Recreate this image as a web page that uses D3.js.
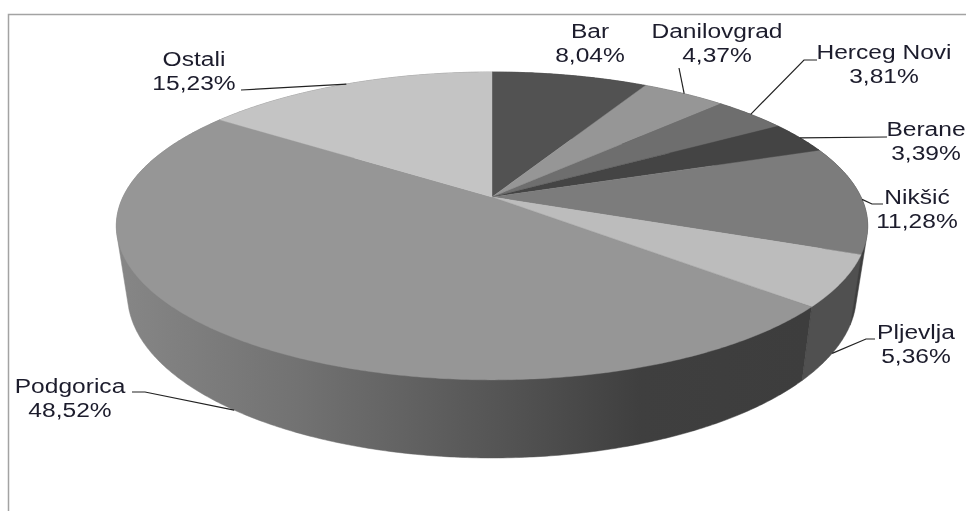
<!DOCTYPE html>
<html>
<head>
<meta charset="utf-8">
<script src="https://cdn.jsdelivr.net/npm/d3@7"></script>
<style>
  html, body { margin: 0; padding: 0; background: #fff; overflow: hidden; }
  svg { display: block; filter: blur(0.4px); }
  text { font-family: "Liberation Sans", Arial, sans-serif; fill: #1c1c2c; }
</style>
</head>
<body>
<div id="chart"></div>
<script>
// Data
var cities = ["Bar", "Danilovgrad", "Herceg Novi", "Berane", "Nikšić", "Pljevlja", "Podgorica", "Ostali"];
var shares = [8.04, 4.37, 3.81, 3.39, 11.28, 5.36, 48.52, 15.23];
var shareLabels = ["8,04%", "4,37%", "3,81%", "3,39%", "11,28%", "5,36%", "48,52%", "15,23%"];

// Slice colours
var topColors = ["#525252", "#969696", "#6e6e6e", "#444444", "#7c7c7c", "#bcbcbc", "#969696", "#c4c4c4"];
var sideColors = ["#333333", "#5c5c5c", "#444444", "#2a2a2a", "#3e3e3e", "#505050", "url(#podgoricaSide)", "#7a7a7a"];

// Label layout: centre x, first baseline, where the leader starts and its elbow
var labelLayout = [
    { x: 590, y: 38 },
    { x: 717, y: 38, from: [679, 68] },
    { x: 884, y: 59, from: [817, 60], elbow: [804, 60] },
    { x: 926, y: 136, from: [887, 137] },
    { x: 917, y: 204, from: [883, 204], elbow: [872, 204] },
    { x: 916, y: 339, from: [875, 339], elbow: [866, 339], rim: "lower" },
    { x: 70, y: 393, from: [132, 392], elbow: [145, 392], rim: "lower" },
    { x: 194, y: 66, from: [241, 90] }
];

var width = 966, height = 511;

var svg = d3.select("#chart").append("svg")
    .attr("width", width)
    .attr("height", height);

// The pie is a flat disc seen in perspective: k makes the front bigger than the back
var k = 0.188;

var xTop = d3.scaleLinear().domain([-1, 1]).range([492 - 369, 492 + 369]),
    yTop = d3.scaleLinear().domain([-1, 1]).range([197 + 148.5, 197 - 148.5]),
    xLow = d3.scaleLinear().domain([-1, 1]).range([492 - 358, 492 + 358]),
    yLow = d3.scaleLinear().domain([-1, 1]).range([264 + 157.5, 264 - 157.5]);

function project(angle, xs, ys) {
    var u = Math.sin(angle), v = Math.cos(angle), d = 1 + k * v;
    return [xs(u / d), ys(v / d)];
}
function onTop(angle) { return project(angle, xTop, yTop); }
function onLow(angle) { return project(angle, xLow, yLow); }

function arcAngles(a0, a1) {
    var n = Math.max(2, Math.ceil((a1 - a0) / 0.01));
    return d3.range(n + 1).map(function (i) { return a0 + (a1 - a0) * i / n; });
}

var line = d3.line();

var pie = d3.pie().sort(null).value(function (d) { return d; });
var slices = pie(shares);

var grad = svg.append("defs").append("linearGradient")
    .attr("id", "podgoricaSide")
    .attr("gradientUnits", "userSpaceOnUse")
    .attr("x1", 120).attr("x2", 805).attr("y1", 0).attr("y2", 0);
grad.append("stop").attr("offset", "0%").attr("stop-color", "#868686");
grad.append("stop").attr("offset", "26%").attr("stop-color", "#727272");
grad.append("stop").attr("offset", "54%").attr("stop-color", "#565656");
grad.append("stop").attr("offset", "76%").attr("stop-color", "#3f3f3f");
grad.append("stop").attr("offset", "100%").attr("stop-color", "#3d3d3d");

// Chart frame, the bottom and right edges fall outside the picture
svg.append("rect")
    .attr("x", 8.5).attr("y", 14.5)
    .attr("width", 1000).attr("height", 600)
    .attr("fill", "none")
    .attr("stroke", "#a3a3a3")
    .attr("stroke-width", 1.5);

// Side walls first, the top disc covers whatever sits behind it.
// The hull gives the straight tangent edge at the far left and right of the pie.
svg.append("g").selectAll("path")
    .data(slices)
    .enter()
    .append("path")
    .attr("d", function (d) {
        var angles = arcAngles(d.startAngle, d.endAngle);
        return line(d3.polygonHull(angles.map(onTop).concat(angles.map(onLow)))) + "Z";
    })
    .attr("fill", function (d, i) { return sideColors[i]; })
    .attr("stroke", function (d, i) { return sideColors[i]; })
    .attr("stroke-width", 0.5);

// Top disc
svg.append("g").selectAll("path")
    .data(slices)
    .enter()
    .append("path")
    .attr("d", function (d) {
        var points = [[xTop(0), yTop(0)]].concat(arcAngles(d.startAngle, d.endAngle).map(onTop));
        return line(points) + "Z";
    })
    .attr("fill", function (d, i) { return topColors[i]; })
    .attr("stroke", function (d, i) { return topColors[i]; })
    .attr("stroke-width", 0.4);

// Leader lines end on the rim at the middle of each slice
svg.append("g").selectAll("path")
    .data(slices)
    .enter()
    .append("path")
    .filter(function (d, i) { return labelLayout[i].from; })
    .attr("d", function (d) {
        var l = labelLayout[d.index], mid = (d.startAngle + d.endAngle) / 2;
        var points = [l.from];
        if (l.elbow) points.push(l.elbow);
        points.push(l.rim == "lower" ? onLow(mid) : onTop(mid));
        return line(points);
    })
    .attr("fill", "none")
    .attr("stroke", "#222")
    .attr("stroke-width", 1.2);

// Labels, the original text is a little stretched sideways
var labels = svg.append("g").selectAll("g")
    .data(cities)
    .enter()
    .append("g")
    .attr("transform", function (d, i) {
        return "translate(" + labelLayout[i].x + "," + labelLayout[i].y + ") scale(1.17,1)";
    });

labels.append("text")
    .attr("text-anchor", "middle")
    .attr("font-size", 21)
    .text(function (d) { return d; });

labels.append("text")
    .attr("text-anchor", "middle")
    .attr("font-size", 21)
    .attr("y", 24.5)
    .text(function (d, i) { return shareLabels[i]; });
</script>
</body>
</html>
